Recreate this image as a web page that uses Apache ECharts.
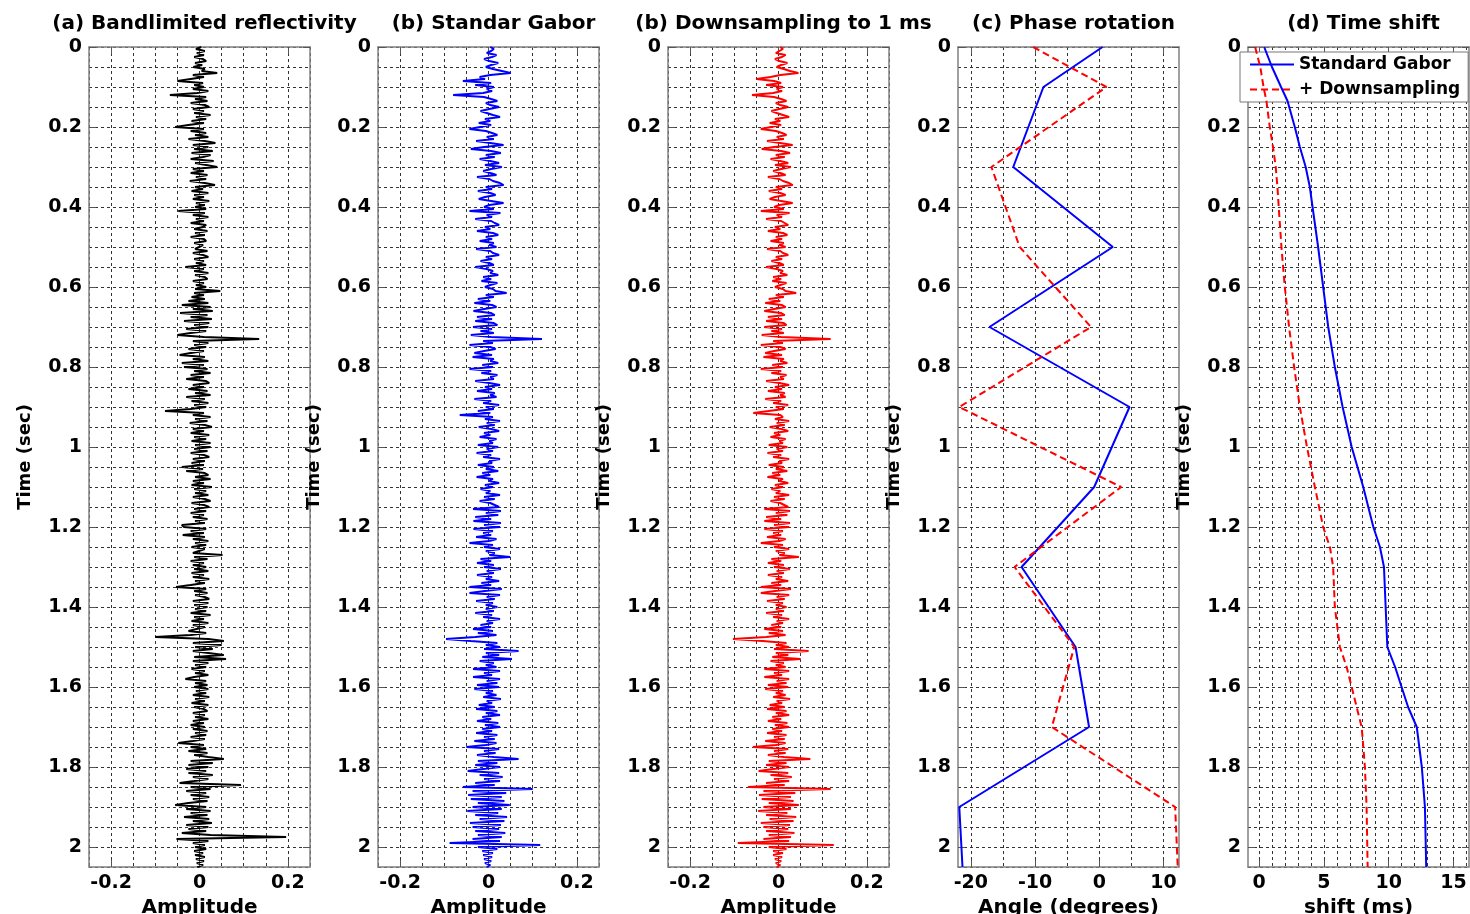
<!DOCTYPE html>
<html><head><meta charset="utf-8">
<script src="https://cdn.jsdelivr.net/npm/echarts@6/dist/echarts.min.js"></script>
<style>html,body{margin:0;padding:0;background:#fff}#c{width:1470px;height:914px}</style>
</head><body><div id="c"></div>
<script>
// ---------------- DATA ----------------
const dt = 0.005; // sample interval of the traces (s)

// (a) band-limited reflectivity, one row per 0.1 s
const reflA = [
 0.004,-0.008,0.012,-0.006,0.010,-0.012,0.008,0.015,-0.010,0.006,-0.014,0.012,0.005,0.040,-0.015,0.010,-0.020,-0.050,0.008,-0.012,
 0.010,-0.015,0.020,-0.005,-0.067,0.015,-0.010,0.018,-0.020,0.012,0.022,-0.015,0.010,-0.012,0.025,-0.008,0.015,-0.018,0.010,-0.025,
 -0.055,0.010,-0.020,0.015,-0.010,0.020,-0.025,0.012,0.036,-0.015,0.020,-0.012,0.030,-0.018,0.025,0.008,-0.020,0.032,-0.010,0.015,
 0.040,-0.015,0.010,-0.020,0.018,-0.008,0.015,-0.022,0.012,0.035,-0.010,0.008,-0.018,0.020,-0.012,0.010,-0.015,0.022,-0.008,0.012,
 -0.010,0.015,-0.048,0.012,-0.015,0.020,-0.008,0.010,-0.020,0.015,0.008,-0.012,0.018,-0.010,0.012,-0.020,0.010,0.015,-0.012,0.008,
 0.012,-0.010,0.018,-0.015,0.008,0.020,-0.012,0.010,-0.008,0.015,-0.032,0.010,-0.012,0.020,-0.010,0.012,0.018,-0.015,0.010,-0.008,
 0.015,-0.010,0.047,-0.012,0.010,-0.018,0.012,-0.025,0.020,-0.040,0.025,-0.015,0.030,-0.044,0.018,-0.020,0.028,-0.035,0.022,-0.012,
 0.020,-0.030,0.015,-0.020,-0.050,0.010,0.135,-0.015,0.020,-0.012,0.015,-0.025,0.010,-0.020,-0.045,0.012,-0.015,0.020,-0.040,0.010,
 -0.035,0.018,-0.012,0.025,-0.020,0.010,-0.030,0.015,0.022,-0.015,0.010,-0.025,0.018,-0.010,0.025,-0.030,0.012,-0.018,0.020,-0.012,
 0.015,-0.020,-0.078,0.010,-0.015,0.025,-0.010,0.018,-0.022,0.012,0.028,-0.015,0.010,-0.020,0.022,-0.012,0.015,-0.018,0.025,-0.010,
 0.025,-0.012,0.018,-0.020,0.010,0.022,-0.015,0.012,-0.018,0.010,-0.040,0.008,-0.030,0.012,0.020,-0.010,0.025,-0.015,0.010,-0.018,
 0.028,-0.012,0.015,-0.010,0.020,-0.015,0.012,0.025,-0.018,0.010,0.022,-0.012,0.015,-0.020,0.010,-0.015,0.018,-0.010,0.012,-0.040,
 -0.035,0.015,-0.020,0.010,-0.038,0.012,-0.015,0.020,-0.010,0.015,-0.018,0.012,0.008,-0.015,0.052,-0.012,0.018,-0.020,0.010,-0.015,
 0.015,-0.012,0.020,-0.018,0.010,-0.015,0.022,-0.010,0.012,-0.020,-0.053,0.015,-0.012,0.018,-0.010,0.012,0.022,-0.015,0.020,-0.012,
 0.018,-0.010,0.015,-0.020,0.025,-0.012,0.010,-0.018,0.020,-0.015,0.012,0.008,-0.025,0.015,-0.020,-0.100,0.020,0.055,-0.015,0.050,
 -0.010,0.030,-0.015,0.020,0.055,-0.012,0.060,-0.015,0.020,-0.010,0.015,-0.018,0.012,-0.010,0.020,-0.012,-0.032,0.015,-0.010,0.018,
 -0.012,0.020,-0.008,0.015,-0.015,0.022,-0.010,0.012,-0.018,0.020,-0.012,0.010,0.018,-0.015,0.012,-0.010,0.020,-0.015,0.010,-0.020,
 0.012,-0.015,0.018,-0.010,0.015,-0.020,0.012,-0.015,-0.048,0.010,-0.020,0.015,-0.025,0.018,-0.012,0.020,0.055,-0.020,0.030,-0.025,
 0.020,-0.030,0.015,-0.025,0.030,-0.015,0.020,-0.012,-0.045,0.094,-0.020,0.025,-0.030,0.015,-0.020,0.022,-0.015,0.018,-0.025,-0.055,
 0.015,-0.030,0.025,-0.020,0.018,-0.035,0.022,-0.015,0.028,-0.030,0.020,-0.025,0.015,-0.040,0.025,0.196,-0.052,0.020,-0.015,0.012,
 -0.010,0.015,-0.012,0.008,-0.010,0.012,-0.008,0.010,-0.006,0.008,-0.005
];

// (b) standard Gabor deconvolution
const gaborB = [
 0.004,0.012,0.006,-0.004,0.018,0.008,-0.010,0.002,0.022,0.006,-0.006,0.010,0.030,0.050,0.004,-0.020,-0.008,-0.058,0.006,-0.030,
 0.012,-0.004,0.008,-0.012,-0.080,-0.010,0.006,0.020,-0.006,0.004,0.024,0.002,-0.018,-0.004,0.010,0.026,-0.008,0.004,-0.022,0.006,
 0.010,-0.043,-0.006,0.008,0.020,-0.004,0.012,-0.028,0.004,0.034,-0.010,-0.040,0.006,0.028,-0.006,0.014,-0.020,0.004,0.024,-0.008,
 0.030,0.006,-0.012,0.004,0.018,-0.026,0.002,0.010,0.026,0.034,-0.006,0.008,-0.024,0.004,0.016,-0.008,-0.022,0.006,0.034,0.002,
 -0.010,0.012,-0.043,0.027,-0.004,0.008,-0.030,0.006,0.014,0.024,-0.008,0.004,-0.026,0.010,0.022,-0.006,0.008,-0.020,0.012,0.002,
 0.018,-0.028,0.004,0.010,0.024,-0.006,0.008,-0.018,0.002,0.012,-0.030,-0.004,0.010,0.004,0.022,-0.012,0.006,-0.016,0.020,0.004,
 -0.008,0.010,0.016,0.041,-0.006,0.012,-0.024,0.004,-0.032,0.008,0.018,-0.010,-0.034,0.006,0.014,-0.026,0.008,-0.030,0.012,0.020,
 -0.035,0.008,-0.018,0.012,-0.040,0.006,0.121,-0.012,0.010,-0.043,0.004,0.016,-0.010,-0.032,0.008,-0.036,0.012,0.004,0.022,-0.014,
 0.010,-0.043,0.006,-0.016,0.020,0.004,0.012,-0.030,0.002,0.026,-0.008,0.008,-0.026,0.014,0.004,0.018,-0.032,0.006,-0.012,0.024,
 -0.006,0.012,-0.024,0.004,-0.065,0.010,-0.008,0.026,-0.004,0.014,-0.022,0.006,0.024,-0.010,0.004,-0.020,0.018,0.002,0.010,-0.024,
 0.022,-0.004,0.010,-0.027,0.006,-0.012,0.026,0.002,0.008,-0.024,0.012,-0.006,0.022,-0.014,0.004,-0.027,0.010,0.002,0.024,-0.008,
 0.010,-0.018,0.004,-0.006,0.026,-0.010,0.014,-0.020,0.004,0.008,0.024,-0.035,0.028,-0.006,0.022,-0.030,0.006,-0.034,0.028,-0.010,
 0.026,-0.034,0.010,-0.012,0.006,-0.028,0.018,0.002,-0.043,0.010,-0.010,0.026,-0.006,0.014,0.002,0.049,-0.018,0.006,-0.026,0.012,
 -0.010,0.028,-0.004,0.012,-0.026,0.008,-0.006,0.024,-0.016,0.006,-0.043,0.030,-0.008,-0.043,0.026,-0.004,0.014,-0.028,0.010,-0.006,
 0.020,-0.006,0.012,-0.030,0.008,-0.012,0.026,-0.004,0.010,-0.018,0.006,-0.035,0.010,-0.024,0.018,-0.030,-0.096,-0.040,0.020,-0.006,
 0.026,-0.010,0.068,-0.006,0.024,-0.014,0.053,-0.020,0.012,-0.006,0.018,-0.035,0.026,-0.010,0.008,-0.035,0.026,-0.004,0.020,-0.026,
 0.024,-0.032,0.010,-0.006,0.018,-0.012,0.028,-0.004,0.008,-0.022,0.014,-0.028,0.020,-0.006,0.026,-0.014,0.006,-0.026,0.022,-0.008,
 0.026,-0.014,0.008,-0.028,0.020,-0.010,0.014,-0.032,0.018,-0.006,-0.050,0.024,-0.010,0.016,-0.026,0.012,0.068,-0.024,0.020,-0.030,
 0.026,-0.012,-0.047,0.024,-0.020,0.032,-0.010,0.026,-0.030,0.014,-0.058,0.100,-0.036,0.040,-0.046,0.030,-0.040,0.036,-0.024,0.048,
 -0.036,0.030,-0.048,0.022,-0.030,0.042,-0.020,0.036,-0.042,0.028,-0.036,0.024,-0.030,0.038,-0.024,0.030,-0.036,0.026,-0.088,0.117,
 -0.024,0.020,-0.014,0.010,-0.012,0.008,-0.010,0.006,-0.008,0.004,-0.004
];

// (b) Gabor + downsampling to 1 ms
const downB = [
 0.004,0.010,0.006,-0.006,0.016,0.008,-0.008,0.002,0.020,0.006,-0.004,0.012,0.026,0.045,0.004,-0.018,-0.050,-0.010,0.006,-0.028,
 0.010,-0.004,0.008,-0.012,-0.060,-0.010,0.006,0.018,-0.006,0.004,0.022,0.002,-0.016,-0.004,0.010,0.024,-0.008,0.004,-0.020,0.006,
 0.010,-0.040,-0.006,0.008,0.018,-0.004,0.012,-0.026,0.004,0.032,-0.010,-0.038,0.006,0.026,-0.006,0.014,-0.018,0.004,0.022,-0.008,
 0.028,0.006,-0.012,0.004,0.016,-0.024,0.002,0.010,0.024,0.032,-0.006,0.008,-0.022,0.004,0.016,-0.008,-0.020,0.006,0.032,0.002,
 -0.010,0.012,-0.040,0.025,-0.004,0.008,-0.028,0.006,0.014,0.022,-0.008,0.004,-0.024,0.010,0.020,-0.006,0.008,-0.018,0.012,0.002,
 0.016,-0.026,0.004,0.010,0.022,-0.006,0.008,-0.016,0.002,0.012,-0.028,-0.004,0.010,0.004,0.020,-0.012,0.006,-0.014,0.018,0.004,
 -0.008,0.010,0.016,0.040,-0.006,0.012,-0.022,0.004,-0.030,0.008,0.016,-0.010,-0.032,0.006,0.014,-0.024,0.008,-0.028,0.012,0.018,
 -0.032,0.008,-0.016,0.012,-0.038,0.006,0.118,-0.012,0.010,-0.040,0.004,0.016,-0.010,-0.030,0.008,-0.034,0.012,0.004,0.020,-0.014,
 0.010,-0.040,0.006,-0.016,0.018,0.004,0.012,-0.028,0.002,0.024,-0.008,0.008,-0.024,0.014,0.004,0.016,-0.030,0.006,-0.012,0.022,
 -0.006,0.012,-0.022,-0.057,0.004,0.010,-0.008,0.024,-0.004,0.014,-0.020,0.006,0.022,-0.010,0.004,-0.018,0.016,0.002,0.010,-0.022,
 0.020,-0.004,0.010,-0.025,0.006,-0.012,0.024,0.002,0.008,-0.022,0.012,-0.006,0.020,-0.014,0.004,-0.025,0.010,0.002,0.022,-0.008,
 0.010,-0.016,0.004,-0.006,0.024,-0.010,0.014,-0.018,0.004,0.008,0.022,-0.032,0.026,-0.006,0.020,-0.028,0.006,-0.032,0.026,-0.010,
 0.024,-0.032,0.010,-0.012,0.006,-0.026,0.016,0.002,-0.040,0.010,-0.010,0.024,-0.006,0.014,0.002,0.046,-0.016,0.006,-0.024,0.012,
 -0.010,0.026,-0.004,0.012,-0.024,0.008,-0.006,0.022,-0.016,0.006,-0.040,0.028,-0.008,-0.040,0.024,-0.004,0.014,-0.026,0.010,-0.006,
 0.018,-0.006,0.012,-0.028,0.008,-0.012,0.024,-0.004,0.010,-0.016,0.006,-0.032,0.010,-0.022,0.016,-0.028,-0.103,-0.036,0.018,-0.006,
 0.024,-0.010,0.068,-0.006,0.022,-0.014,0.050,-0.018,0.012,-0.006,0.016,-0.032,0.024,-0.010,0.008,-0.032,0.024,-0.004,0.018,-0.024,
 0.022,-0.030,0.010,-0.006,0.016,-0.012,0.026,-0.004,0.008,-0.020,0.014,-0.026,0.018,-0.006,0.024,-0.014,0.006,-0.024,0.020,-0.008,
 0.024,-0.014,0.008,-0.026,0.018,-0.010,0.014,-0.030,0.016,-0.006,-0.058,0.022,-0.010,0.016,-0.024,0.012,0.072,-0.022,0.018,-0.028,
 0.024,-0.012,-0.045,0.022,-0.018,0.030,-0.010,0.024,-0.028,0.014,-0.069,0.118,-0.034,0.038,-0.044,0.028,-0.038,0.034,-0.022,0.046,
 -0.034,0.028,-0.046,0.020,-0.028,0.040,-0.020,0.034,-0.040,0.026,-0.034,0.022,-0.028,0.036,-0.022,0.028,-0.034,0.024,-0.092,0.125,
 -0.022,0.018,-0.012,0.010,-0.012,0.008,-0.008,0.006,-0.006,0.004,-0.004
];

// (c) phase rotation (degrees)
const phaseTimes = [0, 0.1, 0.3, 0.5, 0.7, 0.9, 1.1, 1.3, 1.5, 1.7, 1.9, 2.05];
const phaseGabor = [0.5, -8.7, -13.4, 2.1, -17.1, 4.7, -0.8, -12.1, -3.7, -1.6, -21.8, -21.3];
const phaseDown  = [-10.3, 1.1, -16.8, -12.4, -1.3, -21.8, 3.4, -13.2, -3.9, -7.4, 11.8, 12.2];

// (d) time shift (ms)
const shiftTimes = [0, 0.05, 0.1, 0.135, 0.2, 0.25, 0.3, 0.35, 0.4, 0.5, 0.6, 0.7, 0.8, 0.9, 1.0, 1.1, 1.2, 1.25, 1.3, 1.4, 1.5, 1.55, 1.6, 1.65, 1.7, 1.8, 1.9, 2.05];
const shiftGabor = [0.4, 1.0, 1.7, 2.2, 2.76, 3.15, 3.6, 3.92, 4.13, 4.56, 4.95, 5.34, 5.85, 6.45, 7.15, 8.04, 8.82, 9.33, 9.64, 9.77, 9.9, 10.5, 11.0, 11.5, 12.17, 12.56, 12.8, 12.9];
const shiftDown  = [-0.3, 0.1, 0.35, 0.57, 0.83, 1.08, 1.29, 1.42, 1.52, 1.73, 1.99, 2.32, 2.71, 3.15, 3.7, 4.31, 4.95, 5.47, 5.72, 5.85, 6.24, 6.76, 7.15, 7.53, 7.92, 8.17, 8.3, 8.38];

// tick labels
const timeTicks  = [0, 0.2, 0.4, 0.6, 0.8, 1, 1.2, 1.4, 1.6, 1.8, 2];
const ampTicks   = [-0.2, 0, 0.2];
const angleTicks = [-20, -10, 0, 10];
const angleGrid  = [-20, -15, -10, -5, 0, 5, 10];
const shiftTicks = [0, 5, 10, 15];
const shiftGrid  = [0, 1, 2, 3, 4, 5, 6, 7, 8, 9, 10, 11, 12, 13, 14, 15, 16];

const titles = ['(a) Bandlimited reflectivity', '(b) Standar Gabor', '(b) Downsampling to 1 ms', '(c) Phase rotation', '(d) Time shift'];
const xNames = ['Amplitude', 'Amplitude', 'Amplitude', 'Angle (degrees)', 'shift (ms)'];
const legendNames = ['Standard Gabor', '+ Downsampling'];

// ---------------- CHART ----------------
const FONT = 'DejaVu Sans';
const BLUE = '#0000ff', RED = '#ff0000';
const fmt = v => String(+(+v).toFixed(2));

const panels = [
  {left: 89,   xMin: -0.25, xMax: 0.25, xTicks: ampTicks,   xInterval: 0.05},
  {left: 378,  xMin: -0.25, xMax: 0.25, xTicks: ampTicks,   xInterval: 0.05},
  {left: 668,  xMin: -0.25, xMax: 0.25, xTicks: ampTicks,   xInterval: 0.05},
  {left: 958,  xMin: -22,   xMax: 12.4, xTicks: angleTicks, xGrid: angleGrid},
  {left: 1248, xMin: -0.85, xMax: 16.2, xTicks: shiftTicks, xGrid: shiftGrid}
];
const W = 221, TOP = 47, H = 820;
const frame = {show: true, onZero: false, lineStyle: {color: '#808080', width: 1.5}};
const tickStyle = {color: '#555', width: 1};
const gridLine = {show: true, lineStyle: {color: '#333', width: 1, type: [3, 3]}};
const labelStyle = {fontFamily: FONT, fontWeight: 'bold', fontSize: 19, color: '#000'};

const option = {
  backgroundColor: '#fff', animation: false,
  title: [], grid: [], xAxis: [], yAxis: [], series: [],
  legend: {
    left: 1240, top: 52, orient: 'vertical', selectedMode: false,
    itemWidth: 44, itemHeight: 12, itemGap: 8, padding: [4, 8, 4, 9],
    backgroundColor: '#fff', borderColor: '#777', borderWidth: 1,
    itemStyle: {opacity: 0, borderWidth: 0},
    textStyle: {fontFamily: FONT, fontWeight: 'bold', fontSize: 17, color: '#000'},
    data: legendNames
  }
};

panels.forEach((p, i) => {
  option.grid.push({left: p.left, top: TOP, width: W, height: H, outerBoundsMode: 'none', containLabel: false});
  option.title.push({
    text: titles[i], left: p.left + W / 2, top: 9, textAlign: 'center',
    textStyle: {fontFamily: FONT, fontWeight: 'bold', fontSize: 20, color: '#000'}
  });
  const xb = {gridIndex: i, type: 'value', min: p.xMin, max: p.xMax};
  option.xAxis.push(Object.assign({}, xb, {
    position: 'bottom', name: xNames[i], nameLocation: 'middle', nameGap: 27,
    nameTextStyle: {fontFamily: FONT, fontWeight: 'bold', fontSize: 20, color: '#000'},
    axisLine: frame,
    axisTick: {show: true, inside: true, length: 7, customValues: p.xTicks, lineStyle: tickStyle},
    axisLabel: Object.assign({customValues: p.xTicks, margin: 7, formatter: fmt}, labelStyle),
    splitLine: {show: false}
  }));
  option.xAxis.push(Object.assign({}, xb, {
    position: 'top', axisLine: frame,
    axisTick: {show: true, inside: true, length: 7, customValues: p.xTicks, lineStyle: tickStyle},
    axisLabel: {show: false}, splitLine: {show: false}
  }));
  const gx = Object.assign({}, xb, {position: 'bottom', axisLine: {show: false, onZero: false}, axisLabel: {show: false}, splitLine: gridLine});
  if (p.xGrid) gx.axisTick = {show: false, customValues: p.xGrid};
  else { gx.interval = p.xInterval; gx.axisTick = {show: false}; }
  option.xAxis.push(gx);

  const yb = {gridIndex: i, type: 'value', min: 0, max: 2.05, inverse: true};
  option.yAxis.push(Object.assign({}, yb, {
    position: 'left', name: 'Time (sec)', nameLocation: 'middle', nameGap: 55,
    nameTextStyle: {fontFamily: FONT, fontWeight: 'bold', fontSize: 18, color: '#000'},
    axisLine: frame,
    axisTick: {show: true, inside: true, length: 7, customValues: timeTicks, lineStyle: tickStyle},
    axisLabel: Object.assign({customValues: timeTicks, margin: 7, formatter: fmt}, labelStyle),
    splitLine: {show: false}
  }));
  option.yAxis.push(Object.assign({}, yb, {
    position: 'right', axisLine: frame,
    axisTick: {show: true, inside: true, length: 7, customValues: timeTicks, lineStyle: tickStyle},
    axisLabel: {show: false}, splitLine: {show: false}
  }));
  option.yAxis.push(Object.assign({}, yb, {
    position: 'left', interval: 0.05, axisLine: {show: false, onZero: false},
    axisTick: {show: false}, axisLabel: {show: false}, splitLine: gridLine
  }));
});

function traceSeries(values, idx, color, name) {
  return {
    type: 'line', name: name, xAxisIndex: idx * 3, yAxisIndex: idx * 3,
    data: values.map((v, k) => [v, +(k * dt).toFixed(3)]),
    symbol: 'none', showSymbol: false, clip: true, sampling: null,
    lineStyle: {color: color, width: 2}, z: 5
  };
}
function curveSeries(times, values, idx, color, dashed, name) {
  return {
    type: 'line', name: name, xAxisIndex: idx * 3, yAxisIndex: idx * 3,
    data: values.map((v, k) => [v, times[k]]),
    symbol: 'none', showSymbol: false, clip: true,
    itemStyle: {color: color},
    lineStyle: {color: color, width: 2, type: dashed ? [7, 4] : 'solid'}, z: 5
  };
}
option.series.push(traceSeries(reflA, 0, '#000', 'reflectivity'));
option.series.push(traceSeries(gaborB, 1, BLUE, 'gabor'));
option.series.push(traceSeries(downB, 2, RED, 'down'));
option.series.push(curveSeries(phaseTimes, phaseGabor, 3, BLUE, false, 'phase gabor'));
option.series.push(curveSeries(phaseTimes, phaseDown, 3, RED, true, 'phase down'));
option.series.push(curveSeries(shiftTimes, shiftGabor, 4, BLUE, false, legendNames[0]));
option.series.push(curveSeries(shiftTimes, shiftDown, 4, RED, true, legendNames[1]));

const chart = echarts.init(document.getElementById('c'), null, {renderer: 'canvas'});
chart.setOption(option);
</script>
</body></html>
